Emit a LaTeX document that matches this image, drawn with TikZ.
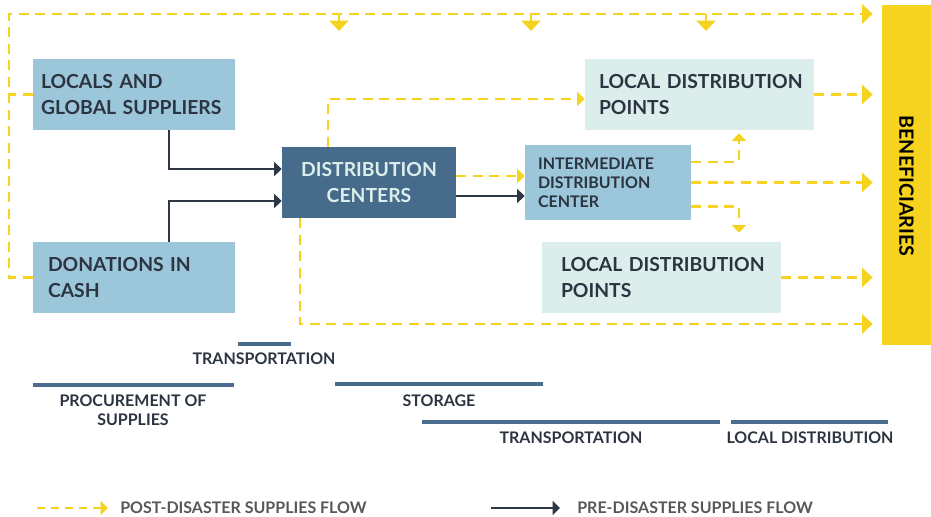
\documentclass[tikz,border=0pt]{standalone}
\usepackage{fontspec}
\setmainfont{Lato}
\usetikzlibrary{arrows.meta,positioning}
\definecolor{lightblue}{HTML}{9CC6D9}
\definecolor{darkblue}{HTML}{476B8B}
\definecolor{palecyan}{HTML}{DCEEEC}
\definecolor{flowyellow}{HTML}{F5D31E}
\definecolor{arrowdark}{HTML}{2E3744}
\definecolor{barblue}{HTML}{4A6D8E}
\definecolor{textdark}{HTML}{2B3440}
\definecolor{legendgray}{HTML}{575757}
\newcommand{\boxfont}{\fontsize{11}{14.7}\selectfont\bfseries}
\newcommand{\smallboxfont}{\fontsize{9.1}{10.7}\selectfont\bfseries}
\newcommand{\labelfont}{\fontsize{9.1}{10.8}\selectfont\bfseries}

\begin{document}
\begin{tikzpicture}[x=0.02cm,y=-0.02cm,
  box/.style={rectangle,fill=lightblue,text=textdark,font=\boxfont,align=left,
    minimum height=1.42cm,inner ysep=0pt},
  post/.style={draw=flowyellow,line width=1.4pt,dash pattern=on 0.2cm off 0.13cm,
    -{Triangle[length=0.21cm,width=0.38cm]}},
  post small/.style={post,-{Triangle[length=0.15cm,width=0.28cm]}},
  post line/.style={post,-},
  pre/.style={draw=arrowdark,line width=1.4pt,-{Triangle[length=0.15cm,width=0.28cm]}},
  bar/.style={draw=barblue,line width=0.08cm},
  barlabel/.style={text=textdark,font=\labelfont,align=center,inner sep=0pt},
  legendtext/.style={text=legendgray,font=\labelfont,inner sep=0pt,anchor=west}]
\useasboundingbox (0,0) rectangle (931,517);

% boxes
\node[box,text width=3.72cm,inner xsep=0.16cm] (locals) at (134,94.5) {LOCALS AND\\GLOBAL SUPPLIERS};
\node[box,text width=3.44cm,inner xsep=0.3cm] (donations) at (134,277.5) {DONATIONS IN\\CASH};
\node[box,fill=darkblue,text=palecyan,align=center,text width=3.16cm,inner xsep=0.16cm] (dc) at (369,182.5) {DISTRIBUTION\\CENTERS};
\node[box,font=\smallboxfont,minimum height=1.5cm,text width=2.8cm,inner xsep=0.26cm] (idc) at (608,182.5) {INTERMEDIATE\\DISTRIBUTION\\CENTER};
\node[box,fill=palecyan,text width=4.02cm,inner xsep=0.28cm] (ldptop) at (699.5,94.5) {\mbox{LOCAL DISTRIBUTION}\\POINTS};
\node[box,fill=palecyan,text width=4.02cm,inner xsep=0.38cm] (ldpbot) at (661.5,277.5) {\mbox{LOCAL DISTRIBUTION}\\POINTS};
\node[rectangle,fill=flowyellow,minimum width=0.98cm,minimum height=6.8cm,inner sep=0pt] (benef) at (906.5,175) {};
\node[rotate=-90,text=black,font=\fontsize{11.2}{14}\selectfont\bfseries] (benefText) at ([yshift=-0.22cm]benef.center) {BENEFICIARIES};

% pre-disaster flow
\draw[pre] ([xshift=0.7cm]locals.south) |- ([yshift=0.27cm]dc.west);
\draw[pre] ([xshift=0.7cm]donations.north) |- ([yshift=-0.37cm]dc.west);
\draw[pre] ([yshift=-0.27cm]dc.east) -- ([yshift=-0.27cm]idc.west);

% post-disaster flow
\coordinate (rail) at (9,14);
\draw[post,shorten >=0.18cm] (donations.west) -- (donations.west -| rail) -- (rail) -- (rail -| benef.west);
\draw[post line] (locals.west) -- (locals.west -| rail);
\foreach \x in {339,531,706}
  \draw[post] (\x,14) -- (\x,31);
\draw[post small] ([xshift=-0.82cm]dc.north) |- ([yshift=-0.09cm]ldptop.west);
\draw[post small] ([yshift=0.13cm]dc.east) -- ([yshift=0.13cm]idc.west);
\draw[post,shorten >=0.18cm] ([xshift=-1.38cm]dc.south) |- ([yshift=-2.98cm]benef.west);
\draw[post,shorten >=0.18cm] (ldptop.east) -- (ldptop.east -| benef.west);
\draw[post small,shorten >=0.06cm] ([yshift=0.41cm]idc.east) -| ([xshift=0.79cm]ldptop.south);
\draw[post,shorten >=0.18cm] (idc.east) -- (idc.east -| benef.west);
\draw[post small,shorten >=0.18cm] ([yshift=-0.48cm]idc.east) -| ([xshift=1.55cm]ldpbot.north);
\draw[post,shorten >=0.18cm] (ldpbot.east) -- (ldpbot.east -| benef.west);

% stages
\draw[bar] (238,344) -- (291,344);
\node[barlabel] (transA) at (264,359) {TRANSPORTATION};
\draw[bar] (33,385) -- (234,385);
\node[barlabel] (procurement) at (133,410.5) {PROCUREMENT OF\\SUPPLIES};
\draw[bar] (335,384) -- (543,384);
\node[barlabel] (storage) at (439,401) {STORAGE};
\draw[bar] (422,422) -- (720,422);
\node[barlabel] (transB) at (571,438) {TRANSPORTATION};
\draw[bar] (731,422) -- (888,422);
\node[barlabel] (localdist) at (810,438) {LOCAL DISTRIBUTION};

% legend
\coordinate (postA) at (37,508);
\coordinate (postB) at (108,508);
\draw[post small,dash pattern=on 0.16cm off 0.12cm] (postA) -- (postB);
\node[legendtext,right=0.24cm of postB] (postText) {POST-DISASTER SUPPLIES FLOW};
\coordinate (preA) at (491,508);
\coordinate (preB) at (560,508);
\draw[pre] (preA) -- (preB);
\node[legendtext,right=0.34cm of preB] (preText) {PRE-DISASTER SUPPLIES FLOW};
\end{tikzpicture}
\end{document}
